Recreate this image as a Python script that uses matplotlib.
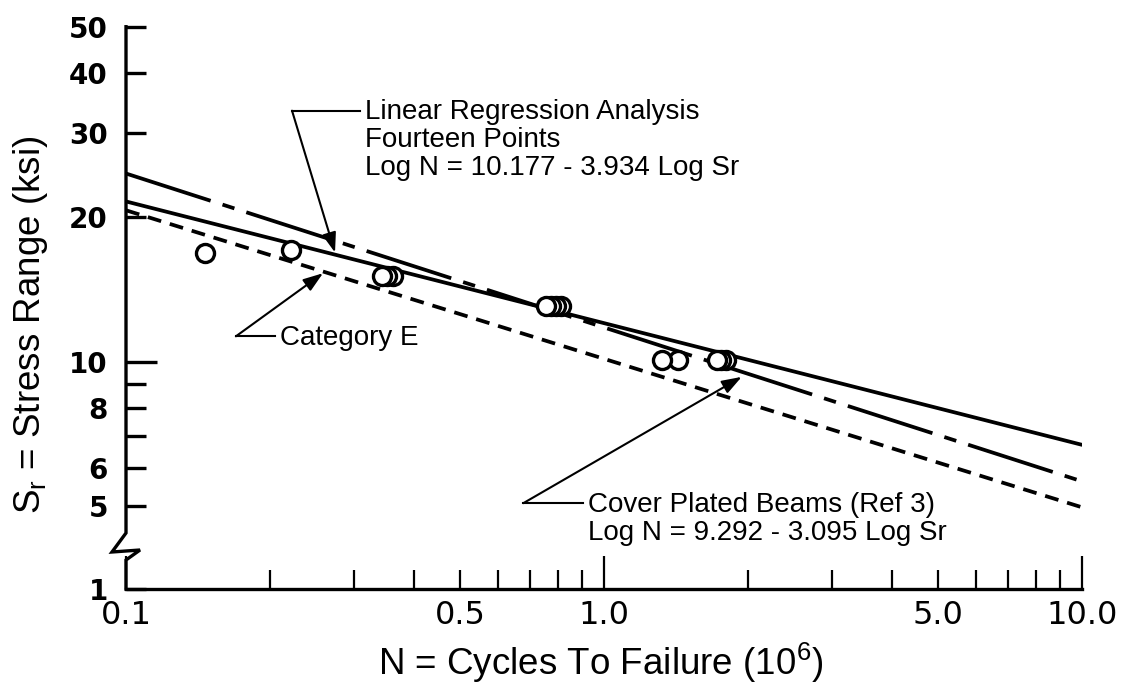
import matplotlib
matplotlib.use('Agg')
import matplotlib.pyplot as plt

plt.rcParams['mathtext.default'] = 'regular'
plt.rcParams['lines.scale_dashes'] = False

# fitted lines (N in 10^6 cycles, Sr in ksi), read at the ends of the x axis
line_n = [0.1, 10.0]
regression_sr = [21.6, 6.71]
cover_plated_sr = [24.7, 5.63]
category_e_sr = [20.7, 4.97]

# test results (fourteen points)
test_n = [0.146, 0.221, 0.343, 0.352, 0.362, 0.756, 0.775, 0.793, 0.812,
          1.32, 1.43, 1.72, 1.76, 1.80]
test_sr = [16.9, 17.1, 15.1, 15.1, 15.1, 13.1, 13.1, 13.1, 13.1,
           10.1, 10.1, 10.1, 10.1, 10.1]

x_major = [0.1, 1.0, 10.0]
x_major_labels = ['0.1', '1.0', '10.0']
x_minor = [0.2, 0.3, 0.4, 0.5, 0.6, 0.7, 0.8, 0.9, 2, 3, 4, 5, 6, 7, 8, 9]
x_minor_labels = ['', '', '', '0.5', '', '', '', '', '', '', '', '5.0', '', '', '', '']

y_bottom = 3.357   # axis is broken below 5, bottom is labelled 1
y_major = [10]
y_minor = [y_bottom, 5, 6, 7, 8, 9, 20, 30, 40, 50]
y_minor_labels = ['1', '5', '6', '', '8', '', '20', '30', '40', '50']

W, H = 1122, 694
fig = plt.figure(figsize=(W / 100, H / 100), dpi=100)
L, R, T, B = 126, 1082, 26.7, 589
ax = fig.add_axes([L / W, 1 - B / H, (R - L) / W, (B - T) / H])
ax.set_xscale('log')
ax.set_yscale('log')
ax.set_xlim(0.1, 10)
ax.set_ylim(y_bottom, 50)

lw = 2.7
ax.plot(line_n, regression_sr, color='black', lw=lw, solid_capstyle='round')
ax.plot(line_n, cover_plated_sr, color='black', lw=lw, dashes=[64, 9, 9, 9])
ax.plot(line_n, category_e_sr, color='black', lw=lw, dashes=[10, 6.5])
ax.plot(test_n[::-1], test_sr[::-1], ls='none', marker='o', ms=13, mew=2.4,
        mfc='white', mec='black', zorder=5)

for s in ['top', 'right', 'left']:
    ax.spines[s].set_visible(False)
ax.spines['bottom'].set_linewidth(2.4)

# left axis with break mark
def fx(px):
    return (px - L) / (R - L)
def fy(py):
    return (B - py) / (B - T)
bx = [L, L, 112, 140, L, L]
by = [T, 533, 552, 550, 560, B]
ax.plot([fx(v) for v in bx], [fy(v) for v in by], transform=ax.transAxes,
        color='black', lw=2.4, clip_on=False, solid_joinstyle='miter')

ax.set_xticks(x_major, x_major_labels)
ax.set_xticks(x_minor, x_minor_labels, minor=True)
ax.set_yticks(y_major, ['10'])
ax.set_yticks(y_minor, y_minor_labels, minor=True)

ax.tick_params(axis='x', which='major', direction='in', length=24, width=1.6, pad=8)
ax.tick_params(axis='x', which='minor', direction='in', length=14, width=1.6, pad=8)
ax.tick_params(axis='y', which='major', direction='in', length=22, width=2.4, pad=13)
ax.tick_params(axis='y', which='minor', direction='in', length=14.5, width=2.4, pad=13)

for lab in ax.get_xticklabels(which='both'):
    lab.set_family(['Liberation Sans Narrow', 'DejaVu Sans'])
    lab.set_fontsize(23)
for lab in ax.get_yticklabels(which='both'):
    lab.set_family('DejaVu Sans')
    lab.set_fontweight('bold')
    lab.set_fontsize(20)

fig.text(31 / W, 1 - 325 / H, 'S$_r$ = Stress Range (ksi)', rotation=90,
         ha='center', va='center', fontsize=26.5, family='Liberation Sans')
fig.text(601 / W, 1 - 663 / H, 'N = Cycles To Failure (10$^6$)',
         ha='center', va='center', fontsize=26.5, family='Liberation Sans')

# annotations
arrow = dict(arrowstyle='-|>,head_length=1.0,head_width=0.35', color='black',
             lw=1.5, shrinkA=0, shrinkB=0, mutation_scale=12)
tfont = dict(fontsize=20, family='Liberation Sans', linespacing=1.1)

ax.annotate('', xy=(0.2737, 16.9), xytext=(0.2225, 33.4), arrowprops=arrow)
ax.plot([0.2225, 0.3087], [33.4, 33.4], color='black', lw=1.5)
ax.text(0.316, 35.3, 'Linear Regression Analysis\nFourteen Points\n'
        'Log N = 10.177 - 3.934 Log Sr', ha='left', va='top', **tfont)

ax.annotate('', xy=(0.2583, 15.3), xytext=(0.1698, 11.3), arrowprops=arrow)
ax.plot([0.1698, 0.2049], [11.3, 11.3], color='black', lw=1.5)
ax.text(0.21, 11.2, 'Category E', ha='left', va='center', **tfont)

ax.annotate('', xy=(1.941, 9.30), xytext=(0.678, 5.07), arrowprops=arrow)
ax.plot([0.678, 0.905], [5.07, 5.07], color='black', lw=1.5)
ax.text(0.926, 5.36, 'Cover Plated Beams (Ref 3)\nLog N = 9.292 - 3.095 Log Sr',
        ha='left', va='top', **tfont)

fig.savefig('out.png', dpi=100)
